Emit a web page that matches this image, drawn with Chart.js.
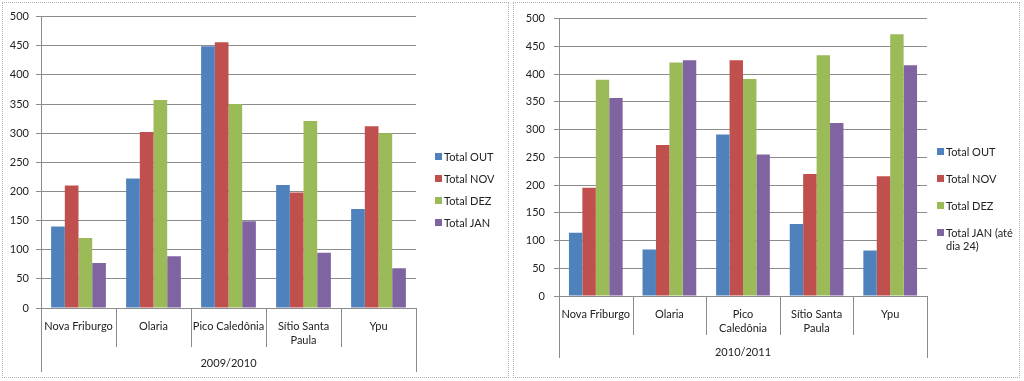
<!DOCTYPE html>
<html>
<head>
<meta charset="utf-8">
<script src="https://cdn.jsdelivr.net/npm/chart.js@4/dist/chart.umd.min.js"></script>
<style>
  html, body { margin: 0; padding: 0; background: #fff; }
  body { width: 1024px; height: 381px; position: relative; overflow: hidden; font-family: Lato, "Open Sans", sans-serif; }
  .panel { position: absolute; top: 2px; width: 505px; height: 374px; border: 1px dotted #b0b0b0; background: #fff; }
  .panel canvas { position: absolute; left: 0; top: 0; }
  .legend { position: absolute; font-size: 11px; color: #222; }
  .legend .item { position: relative; padding-left: 9px; line-height: 13px; }
  .legend .sw { position: absolute; left: 0; top: 3px; width: 7px; height: 7px; }
</style>
</head>
<body>
<div class="panel" id="p1" style="left:2px;"><canvas id="c1" width="505" height="374"></canvas><div class="legend" id="l1"></div></div>
<div class="panel" id="p2" style="left:513px;"><canvas id="c2" width="505" height="374"></canvas><div class="legend" id="l2"></div></div>
<script>
// ---- data ----
const yTicks = [0, 50, 100, 150, 200, 250, 300, 350, 400, 450, 500];
const colors = ['#4F81BD', '#C0504D', '#9BBB59', '#8064A2'];

const groupA = '2009/2010';
const categoriesA = ['Nova Friburgo', 'Olaria', 'Pico Caledônia', ['Sítio Santa', 'Paula'], 'Ypu'];
const seriesNamesA = ['Total OUT', 'Total NOV', 'Total DEZ', 'Total JAN'];
const outA = [140, 222, 449, 211, 170];
const novA = [210, 302, 456, 198, 312];
const dezA = [120, 357, 350, 321, 300];
const janA = [77, 89, 149, 95, 68];

const groupB = '2010/2011';
const categoriesB = ['Nova Friburgo', 'Olaria', ['Pico', 'Caledônia'], ['Sítio Santa', 'Paula'], 'Ypu'];
const seriesNamesB = ['Total OUT', 'Total NOV', 'Total DEZ', 'Total JAN (até dia 24)'];
const outB = [114, 84, 291, 130, 82];
const novB = [195, 272, 425, 220, 216];
const dezB = [390, 421, 391, 434, 472];
const janB = [357, 425, 255, 312, 416];

const FONT = 'Lato, "Open Sans", sans-serif';
const GRID = '#8c8c8c';
const TEXT = '#222';

function groupPlugin(groupLabel, sepLen, edgeLen, labelOffset) {
  return {
    id: 'groupAxis',
    afterDraw(chart) {
      const ctx = chart.ctx;
      const x = chart.scales.x;
      const n = chart.data.labels.length;
      const base = chart.chartArea.bottom;
      ctx.save();
      ctx.strokeStyle = GRID;
      ctx.lineWidth = 1;
      for (let i = 0; i <= n; i++) {
        let px;
        if (i === 0) px = x.left;
        else if (i === n) px = x.right;
        else px = (x.getPixelForValue(i - 1) + x.getPixelForValue(i)) / 2;
        px = Math.round(px) + 0.5;
        const len = (i === 0 || i === n) ? edgeLen : sepLen;
        ctx.beginPath();
        ctx.moveTo(px, base);
        ctx.lineTo(px, base + len);
        ctx.stroke();
      }
      ctx.fillStyle = TEXT;
      ctx.font = '11px ' + FONT;
      ctx.textAlign = 'center';
      ctx.textBaseline = 'middle';
      ctx.fillText(groupLabel, (x.left + x.right) / 2, base + labelOffset);
      ctx.restore();
    }
  };
}

function makeChart(canvasId, legendId, cats, names, series, group, geom) {
  const datasets = names.map((nm, i) => ({
    label: nm,
    data: series[i],
    backgroundColor: colors[i],
    borderWidth: 0,
    categoryPercentage: 0.73,
    barPercentage: 1.0
  }));
  const chart = new Chart(document.getElementById(canvasId), {
    type: 'bar',
    data: { labels: cats, datasets },
    options: {
      responsive: false,
      animation: false,
      devicePixelRatio: 1,
      layout: { padding: { left: 0, right: geom.right, top: geom.top, bottom: 0 } },
      plugins: { legend: { display: false }, tooltip: { enabled: false } },
      scales: {
        x: {
          grid: { display: false },
          border: { display: false },
          ticks: {
            color: TEXT, font: { family: FONT, size: 11, lineHeight: 1.27 },
            maxRotation: 0, minRotation: 0, autoSkip: false, padding: geom.labelPad
          },
          afterFit(s) { s.height = geom.xHeight; }
        },
        y: {
          min: 0, max: 500,
          afterBuildTicks(s) { s.ticks = yTicks.map(v => ({ value: v })); },
          grid: { color: GRID, tickLength: 5, tickColor: GRID },
          border: { color: GRID },
          ticks: { color: TEXT, font: { family: FONT, size: 11 }, padding: geom.yPad },
          afterFit(s) { s.width = geom.yWidth; }
        }
      }
    },
    plugins: [groupPlugin(group, geom.sepLen, geom.edgeLen, geom.groupOff)]
  });
  const leg = document.getElementById(legendId);
  leg.style.left = geom.legLeft + 'px';
  leg.style.top = geom.legTop + 'px';
  leg.style.width = geom.legWidth + 'px';
  chart.data.datasets.forEach((ds, i) => {
    const it = document.createElement('div');
    it.className = 'item';
    it.style.marginBottom = geom.legGap + 'px';
    const sw = document.createElement('span');
    sw.className = 'sw';
    sw.style.background = ds.backgroundColor;
    it.appendChild(sw);
    it.appendChild(document.createTextNode(ds.label));
    leg.appendChild(it);
  });
  return chart;
}

makeChart('c1', 'l1', categoriesA, seriesNamesA, [outA, novA, dezA, janA], groupA, {
  right: 92, top: 12, xHeight: 69, yWidth: 38, yPad: 7, labelPad: 3,
  sepLen: 39, edgeLen: 64, groupOff: 55,
  legLeft: 432, legTop: 147, legWidth: 70, legGap: 9
});
makeChart('c2', 'l2', categoriesB, seriesNamesB, [outB, novB, dezB, janB], groupB, {
  right: 92, top: 12, xHeight: 81, yWidth: 45, yPad: 9, labelPad: 3,
  sepLen: 39, edgeLen: 62, groupOff: 56,
  legLeft: 423, legTop: 142, legWidth: 78, legGap: 14
});
</script>
</body>
</html>
